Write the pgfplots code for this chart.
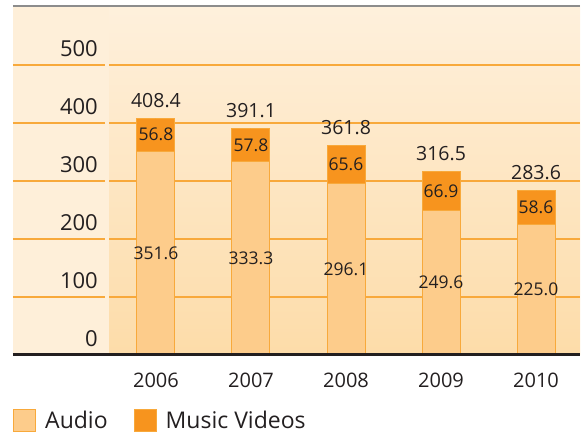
\documentclass[border=0pt]{standalone}
\usepackage{pgfplots}
\pgfplotsset{compat=1.18}
\usepackage{fontspec}
\setmainfont{Open Sans}
\definecolor{cream}{HTML}{FEEFD9}
\definecolor{creamtop}{HTML}{FEF0DC}
\definecolor{creambot}{HTML}{FDDCA9}
\definecolor{audio}{HTML}{FDCC8B}
\definecolor{edge}{HTML}{F8A93B}
\definecolor{mv}{HTML}{F7941E}
\definecolor{txt}{HTML}{231F20}
\definecolor{topline}{HTML}{8C8C8C}
\begin{document}
\begin{tikzpicture}
\begin{axis}[
  set layers,
  scale only axis, width=567pt, height=349pt,
  xmin=-1.505, xmax=4.463, ymin=0, ymax=601.7,
  axis line style={draw=none},
  xtick={0,1,2,3,4}, xticklabels={2006,2007,2008,2009,2010},
  ytick={0,100,200,300,400,500},
  major tick length=0pt,
  ymajorgrids, grid style={draw=edge, line width=1.3pt},
  axis background/.style={fill=cream},
  /pgf/number format/assume math mode=true,
  yticklabel style={anchor=base east, inner sep=0pt, xshift=85pt, yshift=8pt, font=\fontsize{22}{24}\selectfont, text=txt},
  xticklabel style={anchor=base, inner sep=0pt, yshift=-33pt, font=\fontsize{20}{22}\selectfont, text=txt},
  clip=false,
  legend style={at={(rel axis cs:0,0)}, anchor=north west, yshift=-54pt, draw=none, fill=none,
    legend columns=2, font=\fontsize{23}{25}\selectfont, text=txt, inner sep=0pt,
    /tikz/every odd column/.append style={column sep=7pt},
    /tikz/every even column/.append style={column sep=24pt}},
  legend cell align=left,
  legend image code/.code={\draw[#1] (0pt,-11pt) rectangle (22pt,11pt);},
]
\begin{pgfonlayer}{axis background}
\fill[top color=creamtop, bottom color=creambot] (axis cs:-0.495,0) rectangle (rel axis cs:1,1);
\end{pgfonlayer}
\begin{pgfonlayer}{axis ticks}
\fill[cream] (axis cs:-0.537,0) rectangle (axis cs:-0.495,601.7);
\end{pgfonlayer}
\addlegendimage{fill=audio, draw=edge, line width=1pt}
\addlegendentry{Audio}
\addlegendimage{fill=mv, draw=edge, line width=1pt}
\addlegendentry{Music Videos}
% totals (Music Videos on top of Audio)
\addplot[ybar, bar width=38pt, bar shift=0pt, fill=mv, draw=edge, line width=1pt, forget plot]
  coordinates {(0,408.4) (1,391.1) (2,361.8) (3,316.5) (4,283.6)};
% audio
\addplot[ybar, bar width=38pt, bar shift=0pt, fill=audio, draw=edge, line width=1pt, forget plot]
  coordinates {(0,351.6) (1,333.3) (2,296.1) (3,249.6) (4,225.0)};
% audio labels
\addplot[only marks, mark=*, mark size=0pt, mark options={draw=none,fill=none}, forget plot,
  nodes near coords, point meta=explicit symbolic,
  every node near coord/.style={anchor=center, inner sep=0pt, font=\fontsize{17.5}{19}\selectfont, text=txt}]
  table[meta=lab] {
x y lab
0 175.8 351.6
1 166.65 333.3
2 148.05 296.1
3 124.8 249.6
4 112.5 225.0
};
% music video labels
\addplot[only marks, mark=*, mark size=0pt, mark options={draw=none,fill=none}, forget plot,
  nodes near coords, point meta=explicit symbolic,
  every node near coord/.style={anchor=center, inner sep=0pt, font=\fontsize{17.5}{19}\selectfont, text=txt}]
  table[meta=lab] {
x y lab
0 380.0 56.8
1 362.2 57.8
2 328.9 65.6
3 283.05 66.9
4 254.3 58.6
};
% total labels
\addplot[only marks, mark=*, mark size=0pt, mark options={draw=none,fill=none}, forget plot,
  nodes near coords, point meta=explicit symbolic,
  every node near coord/.style={anchor=base, inner sep=0pt, yshift=11pt, font=\fontsize{19.5}{21}\selectfont, text=txt}]
  table[meta=lab] {
x y lab
0 408.4 408.4
1 391.1 391.1
2 361.8 361.8
3 316.5 316.5
4 283.6 283.6
};
\draw[topline, line width=1.5pt] (rel axis cs:0,1) -- (rel axis cs:1,1);
\draw[txt, line width=3pt] (rel axis cs:0,0) -- (rel axis cs:1,0);
\coordinate (SW) at (rel axis cs:0,0);
\coordinate (NE) at (rel axis cs:1,1);
\end{axis}
\pgfresetboundingbox
\path[use as bounding box] ([shift={(-13pt,-79pt)}]SW) rectangle ([shift={(6pt,6pt)}]NE);
\end{tikzpicture}
\end{document}
